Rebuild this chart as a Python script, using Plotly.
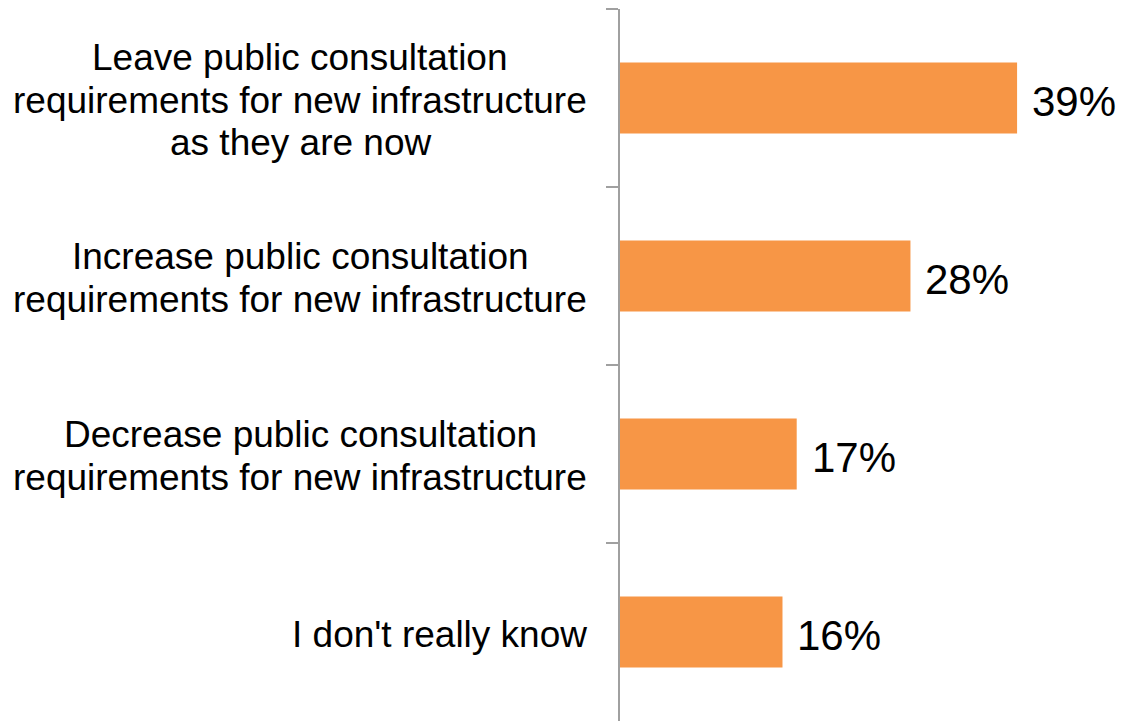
import plotly.graph_objects as go

categories = [
    "Leave public consultation<br>requirements for new infrastructure<br>as they are now",
    "Increase public consultation<br>requirements for new infrastructure",
    "Decrease public consultation<br>requirements for new infrastructure",
    "I don't really know",
]
values = [39.1, 28.6, 17.4, 16.0]
value_labels = ["39%", "28%", "17%", "16%"]

BAR_COLOR = "#F79646"
AXIS_COLOR = "#A0A0A0"
FONT = "Liberation Sans, Arial, sans-serif"
CAT_SIZE = 37
LINE_GAP = 42.5   # pixel spacing between category label lines
RIGHT_EDGE = -33  # right edge of label blocks, px relative to plot left

# Arial / Liberation Sans advance widths (per 1000 em) for width estimation
_W = dict(zip("abcdefghijklmnopqrstuvwxyz",
              [556, 556, 500, 556, 556, 278, 556, 556, 222, 222, 500, 222, 833,
               556, 556, 556, 556, 333, 500, 278, 556, 500, 722, 500, 500, 500]))
_W.update({" ": 278, "'": 191, "L": 556, "I": 278, "D": 722})


def text_width(s, size):
    return sum(_W.get(ch, 556) for ch in s) * size / 1000.0


fig = go.Figure()
fig.add_trace(go.Bar(
    x=values,
    y=categories,
    orientation="h",
    marker=dict(color=BAR_COLOR, line=dict(width=0)),
    hoverinfo="skip",
))

annotations = []
for cat in categories:
    lines = cat.split("<br>")
    n = len(lines)
    block_w = max(text_width(l, CAT_SIZE) for l in lines)
    center = RIGHT_EDGE - block_w / 2
    for i, line in enumerate(lines):
        annotations.append(dict(
            x=0, xref="paper", y=cat, yref="y",
            text=line, showarrow=False,
            xanchor="center", yanchor="middle",
            xshift=center,
            yshift=((n - 1) / 2 - i) * LINE_GAP - 2,
            font=dict(family=FONT, size=CAT_SIZE, color="#000000"),
        ))
for cat, v, lab in zip(categories, values, value_labels):
    annotations.append(dict(
        x=v, xref="x", y=cat, yref="y",
        text=lab, showarrow=False,
        xanchor="left", yanchor="middle",
        xshift=13, yshift=-3,
        font=dict(family=FONT, size=42, color="#000000"),
    ))

fig.update_layout(
    width=1117, height=713,
    margin=dict(l=612, r=48, t=1, b=0),
    paper_bgcolor="white", plot_bgcolor="white",
    bargap=0.6,
    showlegend=False,
    annotations=annotations,
    font=dict(family=FONT),
)
fig.update_xaxes(range=[0, 45], visible=False, showgrid=False, zeroline=False)
fig.update_yaxes(
    autorange="reversed",
    showticklabels=False,
    showline=True, linecolor=AXIS_COLOR, linewidth=2,
    ticks="outside", tickson="boundaries", ticklen=12,
    tickcolor=AXIS_COLOR, tickwidth=2,
    showgrid=False, zeroline=False,
)

fig.write_html("out.html")
